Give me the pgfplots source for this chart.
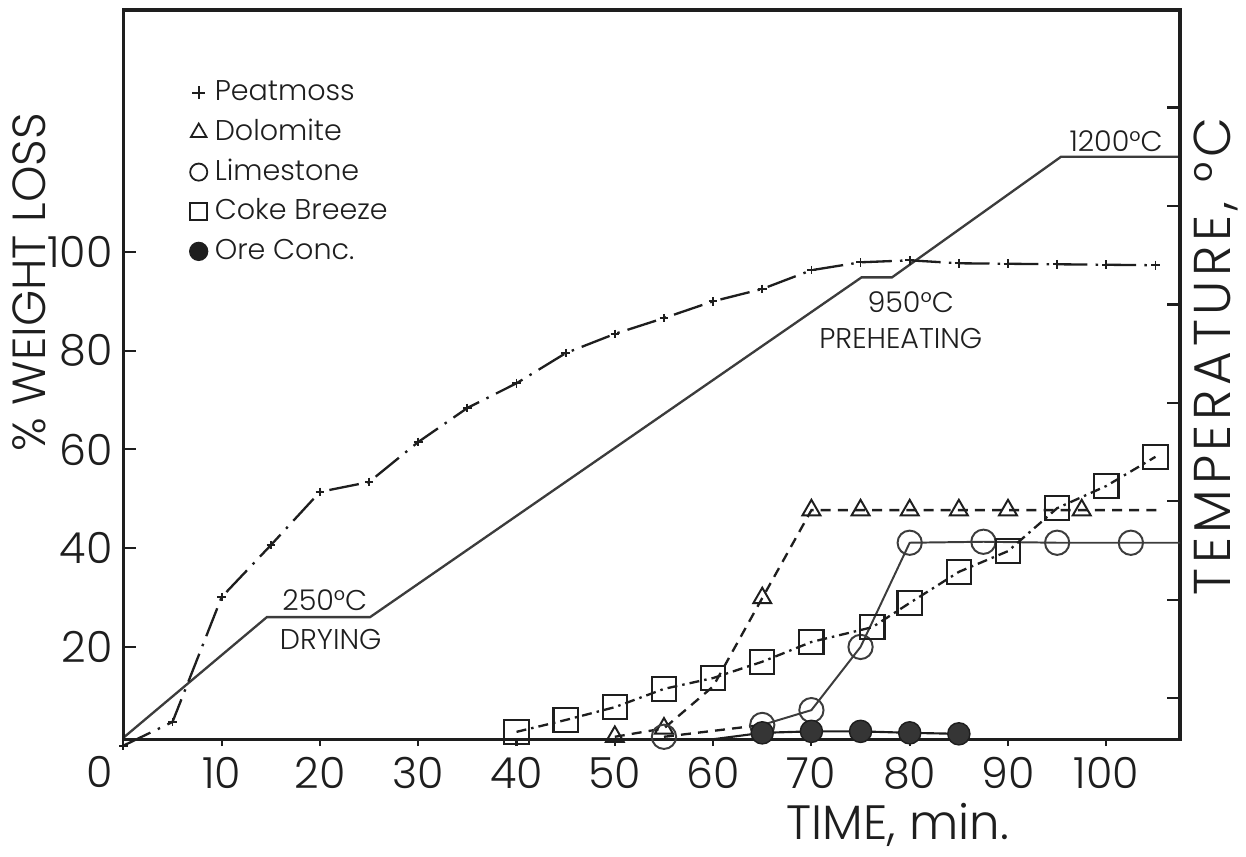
\documentclass[border=0pt]{standalone}
\usepackage{fontspec}
\setmainfont{Poppins Light}
\newfontfamily\spaced[LetterSpace=9]{Poppins Light}
\usepackage{pgfplots}
\pgfplotsset{compat=1.18}

\definecolor{ink}{HTML}{1E1E1E}
\definecolor{greyline}{HTML}{3C3C3C}

% peatmoss, % weight loss
\pgfplotstableread{
x y
0 0
5 4.8
10 30.1
15 40.6
20 51.4
25 53.4
30 61.5
35 68.4
40 73.4
45 79.5
50 83.4
55 86.6
60 90.0
65 92.5
70 96.3
75 97.9
80 98.3
85 97.7
90 97.6
95 97.5
100 97.4
105 97.3
}\peat

\pgfplotstableread{
x y
50 1.8
55 3.5
60 12
65 29.9
70 47.7
75 47.7
80 47.7
85 47.7
90 47.7
97.5 47.7
105.5 47.7
}\dololine

\pgfplotstableread{
x y
50 1.8
55 3.5
65 29.9
70 47.7
75 47.7
80 47.7
85 47.7
90 47.7
97.5 47.7
}\dolomarks

\pgfplotstableread{
x y
65 4.2
70 7.2
75 20.0
80 41.1
87.5 41.3
95 41.1
102.5 41.1
107.5 41.1
}\limeline

\pgfplotstableread{
x y
55 1.8
65 4.2
70 7.2
75 20.0
80 41.1
87.5 41.3
95 41.1
102.5 41.1
}\limemarks

\pgfplotstableread{
x y
40 2.8
45 5.2
50 7.8
55 11.5
60 13.7
65 17.0
70 21.0
76.2 24.0
80 28.9
85 35.2
90 39.4
95 48.1
100 52.6
105 58.5
}\coke

\pgfplotstableread{
x y
60 1.3
65 2.6
70 2.9
75 2.9
80 2.6
85 2.4
}\oreline

\pgfplotstableread{
x y
65 2.6
70 2.9
75 2.9
80 2.6
85 2.4
}\oremarks

% furnace temperature, deg C
\pgfplotstableread{
x y
0 20
14.6 265
25.1 265
75.1 955
78.2 955
95.4 1200
107.5 1200
}\temp

\pgfplotsset{
  frame/.style={width=295.96pt, height=204.4pt, scale only axis,
    xmin=0, xmax=107.5, axis line style={line width=0.9pt, ink}},
}

\begin{document}
\begin{tikzpicture}[font=\fontsize{8}{9}\selectfont]

% temperature on the right-hand scale
\begin{axis}[frame,
  ymin=16, ymax=1498,
  axis x line=none, axis y line*=right,
  ytick={100,300,...,1300}, yticklabels={},
  tick align=inside, major tick length=3.6pt,
  tick style={line width=0.6pt, ink}]
  \addplot[greyline, line width=0.65pt, mark=none] table {\temp};
\end{axis}

% inward ticks on the left scale
\begin{axis}[frame,
  ymin=1.2, ymax=149,
  axis x line=none, axis y line*=left,
  ytick={20,40,60,80,100}, yticklabels={},
  tick align=inside, major tick length=3.6pt,
  tick style={line width=0.6pt, ink}]
\end{axis}

\begin{axis}[frame,
  ymin=1.2, ymax=149,
  /pgf/number format/assume math mode=true,
  tick align=outside, major tick length=1.8pt,
  xtick={10,20,...,100}, xtick pos=bottom,
  ytick={20,40,60,80,100}, ytick pos=left,
  ytick style={draw=none},
  xtick style={line width=0.6pt, ink},
  ticklabel style={font=\fontsize{12}{12}\selectfont, text=ink},
  xticklabel style={inner sep=2pt, yshift=-1pt},
  yticklabel style={inner sep=1pt},
  legend style={draw=none, fill=none, at={(rel axis cs:0.047,0.918)},
    anchor=north west, font=\fontsize{8}{9}\selectfont, row sep=2.6pt,
    nodes={inner sep=0.5pt, text height=6pt, text depth=1.5pt, text=ink}},
  legend cell align=left,
  legend image code/.code={\path[draw=none] (0pt,0pt) (8pt,0pt);
    \draw[#1] plot coordinates {(4pt,0pt)};},
  clip=false]

  \addlegendimage{only marks, mark=+, mark size=1.8pt, ink, line width=0.5pt}
  \addlegendentry{Peatmoss}
  \addlegendimage{only marks, mark=triangle, mark size=2.5pt, ink, line width=0.5pt}
  \addlegendentry{Dolomite}
  \addlegendimage{only marks, mark=o, mark size=2.4pt, ink, line width=0.5pt}
  \addlegendentry{Limestone}
  \addlegendimage{only marks, mark=square, mark size=2.4pt, ink, line width=0.5pt}
  \addlegendentry{Coke Breeze}
  \addlegendimage{only marks, mark=*, mark size=2.5pt, ink}
  \addlegendentry{Ore Conc.}

  % lines
  \addplot[forget plot, ink, line width=0.65pt,
    dash pattern=on 8.4pt off 2.3pt on 0.7pt off 2.3pt,
    mark=+, mark size=1.2pt, mark options={solid, line width=0.5pt}] table {\peat};
  \addplot[forget plot, ink, line width=0.65pt,
    dash pattern=on 2.8pt off 2pt] table {\dololine};
  \addplot[forget plot, ink, line width=0.65pt,
    dash pattern=on 2.8pt off 2pt] coordinates {(55,1.8) (65,4.2)};
  \addplot[forget plot, greyline, line width=0.55pt] table {\limeline};
  \addplot[forget plot, ink, line width=0.65pt,
    dash pattern=on 2.8pt off 1.4pt on 0.7pt off 1.4pt] table {\coke};
  \addplot[forget plot, ink, line width=0.6pt] table {\oreline};

  % marks
  \addplot[forget plot, only marks, mark=triangle, mark size=2.9pt, ink,
    line width=0.55pt, mark options={fill=white}] table {\dolomarks};
  \addplot[forget plot, only marks, mark=o, mark size=3.4pt, greyline,
    line width=0.55pt, mark options={fill=white}] table {\limemarks};
  \addplot[forget plot, only marks, mark=square, mark size=3.4pt, ink,
    line width=0.6pt, mark options={fill=white}] table {\coke};
  \addplot[forget plot, only marks, mark=*, mark size=3.1pt, ink,
    mark options={fill=ink!90}] table {\oremarks};

  % annotations
  \node[text=ink] at (axis cs:20.5,29.5) {250°C};
  \node[text=ink] at (axis cs:21.1,21.6) {DRYING};
  \node[text=ink] at (axis cs:80.1,89.8) {950°C};
  \node[text=ink] at (axis cs:79.1,82.5) {PREHEATING};
  \node[text=ink] at (axis cs:101,122.5) {1200°C};

  % axis titles and the shared origin label
  \node[rotate=90, text=ink, font=\fontsize{13}{13}\selectfont]
    at (rel axis cs:-0.089,0.627) {\% WEIGHT LOSS};
  \node[rotate=90, text=ink, font=\spaced\fontsize{14.5}{14.5}\selectfont]
    at (rel axis cs:1.034,0.525) {TEMPERATURE, °C};
  \node[text=ink, font=\fontsize{13.5}{13.5}\selectfont]
    at (rel axis cs:0.733,-0.117) {TIME, min.};
  \node[text=ink, font=\fontsize{12}{12}\selectfont]
    at (rel axis cs:-0.022,-0.0438) {0};
\end{axis}

\pgfresetboundingbox
\path[use as bounding box]
  ([xshift=-34.55pt,yshift=-32.76pt]current axis.south west)
  rectangle ([xshift=18.48pt,yshift=2.8pt]current axis.north east);
\end{tikzpicture}
\end{document}
